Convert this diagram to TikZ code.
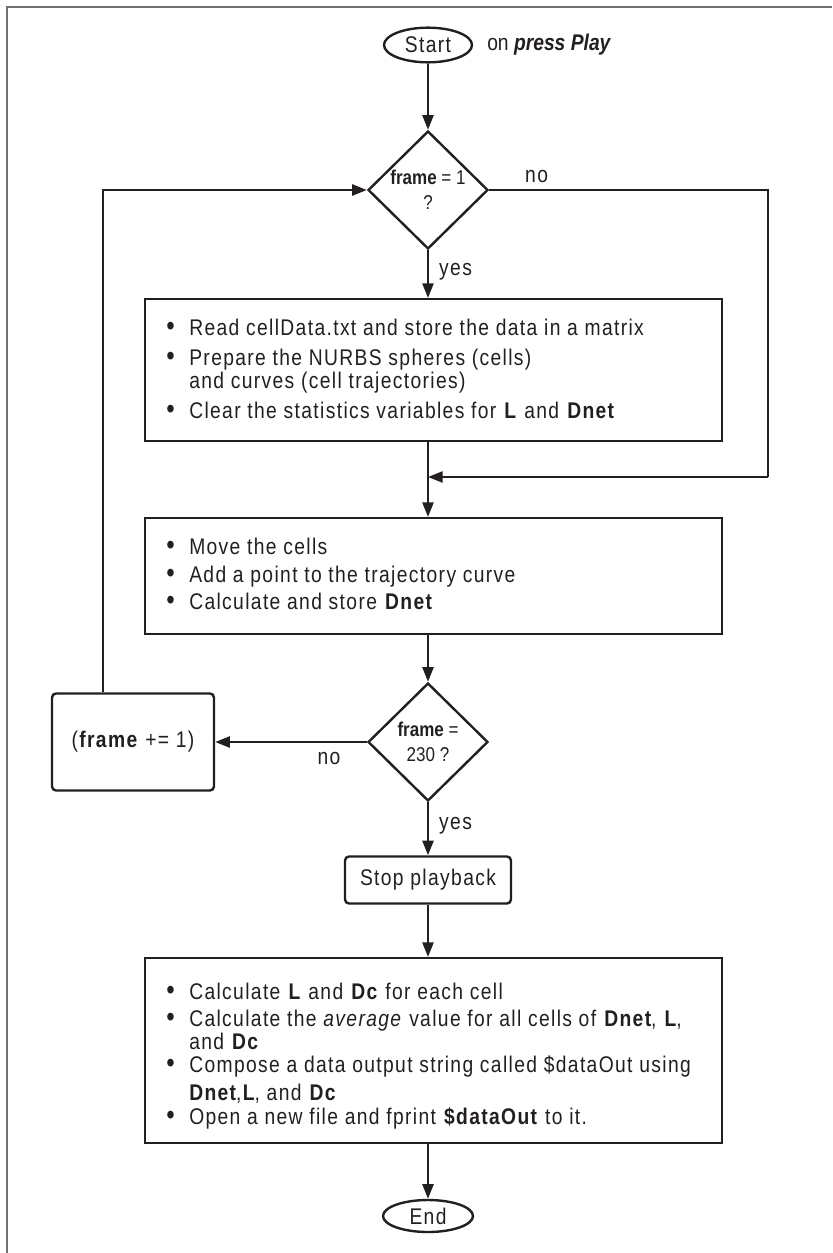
\documentclass[tikz,border=0pt]{standalone}
\usepackage{fontspec}
\setmainfont{Liberation Sans}[FakeStretch=0.85, LetterSpace=6]
\newfontfamily\tightfont{Liberation Sans}[FakeStretch=0.85]
\usetikzlibrary{shapes.geometric,arrows.meta}
\definecolor{ink}{HTML}{231F20}
\definecolor{framegray}{HTML}{707070}
\newcommand{\bul}{\makebox[17.25pt][l]{\scalebox{1.25}{\textbullet}}}
\newcommand{\ind}{\hspace*{17.25pt}}
\begin{document}
\begin{tikzpicture}[x=0.75pt,y=-0.75pt,
  font=\fontsize{17}{19}\selectfont, text=ink,
  conn/.style={draw=ink, line width=1.8pt, -{Triangle[length=11pt,width=8.25pt]}},
  plain/.style={draw=ink, line width=1.8pt},
  procbox/.style={draw=ink, line width=1.8pt, rectangle, inner sep=0pt, anchor=north west},
  softbox/.style={draw=ink, line width=1.8pt, rectangle, rounded corners=3pt, inner sep=0pt},
  term/.style={draw=ink, line width=1.8pt, ellipse, inner sep=0pt},
  decide/.style={draw=ink, line width=1.8pt, diamond, inner sep=0pt, aspect=1,
    minimum width=90pt, minimum height=88.5pt, align=center,
    font=\tightfont\fontsize{15}{19}\selectfont},
  lbl/.style={inner sep=0pt, font=\fontsize{17}{19}\selectfont},
  listtext/.style={inner sep=0pt, anchor=west, align=left}
]
\useasboundingbox (0,0) rectangle (832,1253);
% outer frame, open at right and bottom
\draw[framegray, line width=1.6pt] (7,1253) -- (7,7) -- (832,7);

% terminals
\node[term, minimum width=66pt, minimum height=26pt] (start) at (428,45) {Start};
\node[lbl, anchor=west, font=\tightfont\fontsize{17}{19}\selectfont] (play) at (487,45) {on \textbf{\textit{press Play}}};
\node[term, minimum width=67.5pt, minimum height=24pt] (stopend) at (428,1216) {End};

% decisions
\node[decide] (d1) at (428,190) {\raisebox{-10.5pt}{\textbf{frame} = 1}\\ \raisebox{-10.5pt}{?}};
\node[decide] (d2) at (428,742) {\raisebox{-7pt}{\textbf{frame} =}\\ \raisebox{-7pt}{230 ?}};

% process boxes
\node[procbox, minimum width=432.75pt, minimum height=106.5pt] (b1) at (144,298) {};
\node[listtext] (t1) at (166,369) {\bul Read cellData.txt and store the data in a matrix\\[3.5pt]
  \bul Prepare the NURBS spheres (cells)\\[-2pt]
  \ind and curves (cell trajectories)\\[3.5pt]
  \bul Clear the statistics variables for \textbf{L} and \textbf{Dnet}};

\node[procbox, minimum width=432.75pt, minimum height=87pt] (b2) at (144,517) {};
\node[listtext] (t2) at (166,574) {\bul Move the cells\\[1.75pt]
  \bul Add a point to the trajectory curve\\[1pt]
  \bul Calculate and store \textbf{Dnet}};

\node[softbox, minimum width=121.5pt, minimum height=72.75pt] (inc) at (133,742) {(\textbf{frame} += 1)};
\node[softbox, minimum width=124.5pt, minimum height=35.25pt] (halt) at (428,880) {Stop playback};

\node[procbox, minimum width=432.75pt, minimum height=138.75pt] (b3) at (144,957) {};
\node[listtext] (t3) at (166,1056) {\bul Calculate \textbf{L} and \textbf{Dc} for each cell\\[1.25pt]
  \bul Calculate the \textit{average} value for all cells of \textbf{Dnet}, \textbf{L},\\[-1.5pt]
  \ind and \textbf{Dc}\\[-1.5pt]
  \bul Compose a data output string called \$dataOut using\\[2pt]
  \ind \textbf{Dnet},\textbf{L}, and \textbf{Dc}\\[-1pt]
  \bul Open a new file and fprint \textbf{\$dataOut} to it.};

% junction points on the side paths
\coordinate (nojoin) at (768,477);
\coordinate (loopfoot) at ([xshift=-22.5pt]inc.north);

% connectors
\draw[conn] (start) -- (d1.north);
\draw[conn] (d1.south) -- node[lbl, right=7.5pt, pos=0.45] (yes1) {yes} (b1.north -| d1.south);
\draw[plain] (d1.east) -- node[lbl, above=4.5pt, pos=0.17] (no1) {no} (d1.east -| nojoin) -- (nojoin);
\draw[conn] (nojoin) -- (nojoin -| d1.south);
\draw[conn] (b1.south -| d1.south) -- (b2.north -| d1.south);
\draw[conn] (b2.south -| d1.south) -- (d2.north);
\draw[conn] (d2.west) -- node[lbl, below=7pt, pos=0.25] (no2) {no} (inc.east);
\draw[conn] (loopfoot) |- (d1.west);
\draw[conn] (d2.south) -- node[lbl, right=7.5pt, pos=0.45] (yes2) {yes} (halt.north);
\draw[conn] (halt.south) -- (b3.north -| halt.south);
\draw[conn] (b3.south -| halt.south) -- (stopend.north);
\end{tikzpicture}
\end{document}
